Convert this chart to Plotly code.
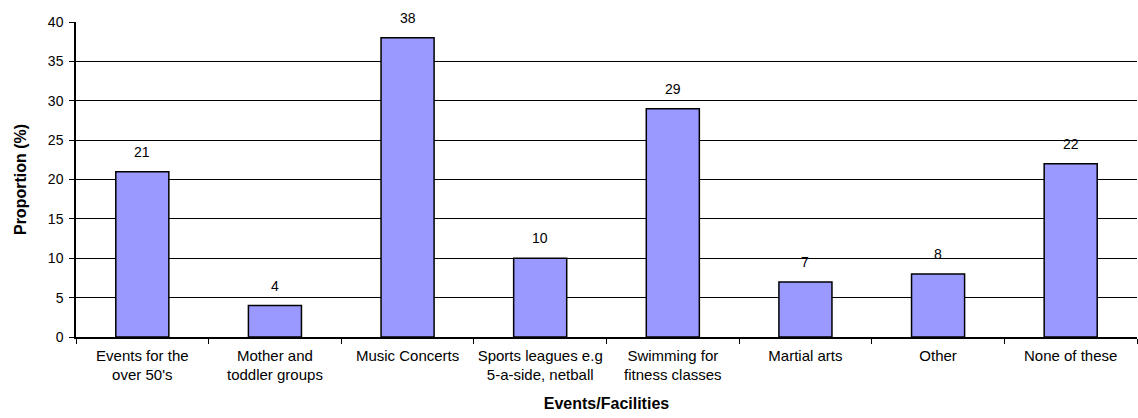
import plotly.graph_objects as go

categories = [
    "Events for the<br>over 50's",
    "Mother and<br>toddler groups",
    "Music Concerts",
    "Sports leagues e.g<br>5-a-side, netball",
    "Swimming for<br>fitness classes",
    "Martial arts",
    "Other",
    "None of these",
]
proportions = [21, 4, 38, 10, 29, 7, 8, 22]

fig = go.Figure(
    go.Bar(
        x=categories,
        y=proportions,
        marker_color="#9999FF",
        marker_line_color="black",
        marker_line_width=1.5,
        width=0.4,
        hoverinfo="x+y",
    )
)

# value labels above bars
for cat, val in zip(categories, proportions):
    fig.add_annotation(
        x=cat, y=val, text=str(val), showarrow=False,
        yshift=20, font=dict(family="Arial, Liberation Sans", size=14, color="black"),
    )

fig.update_layout(
    width=1138,
    height=418,
    margin=dict(l=76, r=1, t=22, b=81),
    paper_bgcolor="white",
    plot_bgcolor="white",
    showlegend=False,
    font=dict(family="Arial, Liberation Sans", size=14, color="black"),
)

fig.update_xaxes(
    title=dict(text="<b>Events/Facilities</b>", font=dict(size=16), standoff=16),
    showline=True, linecolor="black", linewidth=1.5,
    ticks="outside", ticklen=5, tickcolor="black",
    tickson="boundaries",
    tickangle=0,
    tickfont=dict(size=15),
    ticklabelstandoff=4,
    automargin=False,
)

fig.update_yaxes(
    title=dict(text="<b>Proportion (%)</b>", font=dict(size=16), standoff=17),
    range=[0, 40], dtick=5,
    showline=True, linecolor="black", linewidth=1.5,
    ticks="outside", ticklen=5, tickcolor="black",
    showgrid=True, gridcolor="black", gridwidth=1,
    zeroline=False,
    tickfont=dict(size=14),
    ticklabelstandoff=3,
    automargin=False,
)

# drop the default body margin so the figure sits at the window's corner
fig.write_html(
    "out.html",
    config={"displayModeBar": False},
    post_script="document.body.style.margin='0';",
)
